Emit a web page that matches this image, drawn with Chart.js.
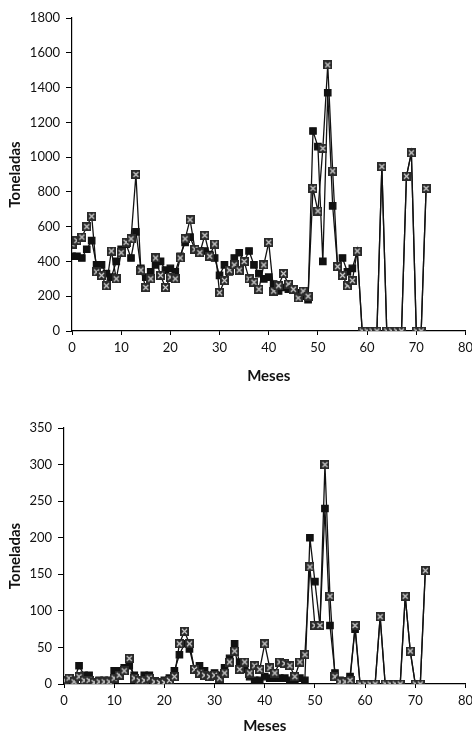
<!DOCTYPE html>
<html>
<head>
<meta charset="utf-8">
<script src="https://cdn.jsdelivr.net/npm/chart.js@4"></script>
<style>
  body { margin: 0; background: #fff; width: 472px; height: 735px; overflow: hidden; position: relative; }
  .box { position: absolute; left: 0; width: 478px; }
  #top { top: 0; height: 385px; }
  #bottom { top: 386px; height: 349px; }
</style>
</head>
<body>
<div class="box" id="top"><canvas id="chartTop"></canvas></div>
<div class="box" id="bottom"><canvas id="chartBottom"></canvas></div>
<script>
// months 0..72
const months = [0,1,2,3,4,5,6,7,8,9,10,11,12,13,14,15,16,17,18,19,20,21,22,23,24,25,26,27,28,29,30,31,32,33,34,35,36,37,38,39,40,41,42,43,44,45,46,47,48,49,50,51,52,53,54,55,56,57,58,59,60,61,62,63,64,65,66,67,68,69,70,71,72];

// top chart (toneladas)
const topSquares = [430,430,420,470,520,380,380,330,310,400,470,500,420,570,360,310,340,380,400,350,360,340,430,510,540,470,460,460,440,420,320,380,340,420,450,400,460,380,330,300,310,270,230,250,240,240,220,200,180,1150,1060,400,1370,720,370,420,340,360,460,0,0,0,0,945,0,0,0,0,890,1025,0,0,820];
const topStars = [500,520,540,600,660,340,320,260,460,300,450,510,530,900,350,250,300,420,320,250,310,300,420,530,640,470,450,550,430,500,220,290,350,380,350,400,300,280,240,380,510,230,260,330,270,240,190,230,200,820,690,1050,1530,920,370,320,260,290,460,0,0,0,0,945,0,0,0,0,890,1025,0,0,820];

// bottom chart (toneladas)
const bottomSquares = [5,5,5,25,12,12,2,5,5,5,18,18,22,25,12,5,12,12,2,2,5,8,18,40,55,48,20,25,18,12,15,12,22,35,55,30,20,10,5,5,10,8,8,8,8,5,5,8,5,200,140,80,240,80,15,5,3,10,75,0,0,0,0,92,0,0,0,0,120,45,0,0,155];
const bottomStars = [5,8,3,10,5,5,2,3,3,3,8,12,18,35,8,5,5,8,3,2,2,5,10,55,72,55,20,15,12,10,12,8,15,30,45,20,30,15,25,20,55,22,15,30,28,25,10,30,40,160,80,80,300,120,10,3,3,5,80,0,0,0,0,92,0,0,0,0,120,45,0,0,155];

const topTicks = [0,200,400,600,800,1000,1200,1400,1600,1800];
const bottomTicks = [0,50,100,150,200,250,300,350];

// little boxed "x" marker used for the second series
function starMarker() {
  const c = document.createElement('canvas');
  c.width = 9; c.height = 9;
  const g = c.getContext('2d');
  g.fillStyle = '#2a2a2a';
  g.fillRect(0, 0, 9, 9);
  g.strokeStyle = '#cfcfcf';
  g.lineWidth = 1.2;
  g.beginPath();
  g.moveTo(2, 2); g.lineTo(7, 7);
  g.moveTo(7, 2); g.lineTo(2, 7);
  g.stroke();
  return c;
}
const star = starMarker();

function points(vals) {
  return months.map((m, i) => ({ x: m, y: vals[i] }));
}

function makeChart(id, squares, stars, ticks, yMax, axisWidth, axisHeight, padTop) {
  const font = { family: 'Lato', size: 13 };
  const titleFont = { family: 'Lato', size: 15, weight: 'bold' };
  new Chart(document.getElementById(id), {
    type: 'line',
    data: {
      datasets: [
        {
          data: points(stars),
          borderColor: '#111',
          borderWidth: 1.3,
          pointStyle: star,
          pointRadius: 4.5,
          tension: 0
        },
        {
          data: points(squares),
          borderColor: '#111',
          borderWidth: 1.3,
          pointStyle: 'rect',
          pointRadius: 4.5,
          pointBackgroundColor: '#111',
          pointBorderColor: '#111',
          tension: 0
        }
      ]
    },
    options: {
      responsive: true,
      maintainAspectRatio: false,
      animation: false,
      events: [],
      layout: { padding: { top: padTop, right: 0, left: 0, bottom: 0 } },
      plugins: { legend: { display: false }, tooltip: { enabled: false } },
      scales: {
        x: {
          type: 'linear',
          min: 0,
          max: 80,
          afterFit: s => { s.height = axisHeight; },
          ticks: { stepSize: 10, color: '#111', font: font, padding: 5 },
          grid: { drawOnChartArea: false, drawTicks: true, tickLength: 4, color: '#000' },
          border: { color: '#000', width: 1.2 },
          title: { display: true, text: 'Meses', color: '#111', font: titleFont, padding: 0 }
        },
        y: {
          min: 0,
          max: yMax,
          afterBuildTicks: s => { s.ticks = ticks.map(v => ({ value: v })); },
          afterFit: s => { s.width = axisWidth; },
          ticks: { color: '#111', font: font, padding: 6, callback: v => String(v) },
          grid: { drawOnChartArea: false, drawTicks: true, tickLength: 6, color: '#000' },
          border: { color: '#000', width: 1.2 },
          title: { display: true, text: 'Toneladas', color: '#111', font: titleFont, padding: { top: 6, bottom: 0 } }
        }
      }
    }
  });
}

makeChart('chartTop', topSquares, topStars, topTicks, 1800, 72, 54, 18);
makeChart('chartBottom', bottomSquares, bottomStars, bottomTicks, 350, 64, 51, 42);
</script>
</body>
</html>
